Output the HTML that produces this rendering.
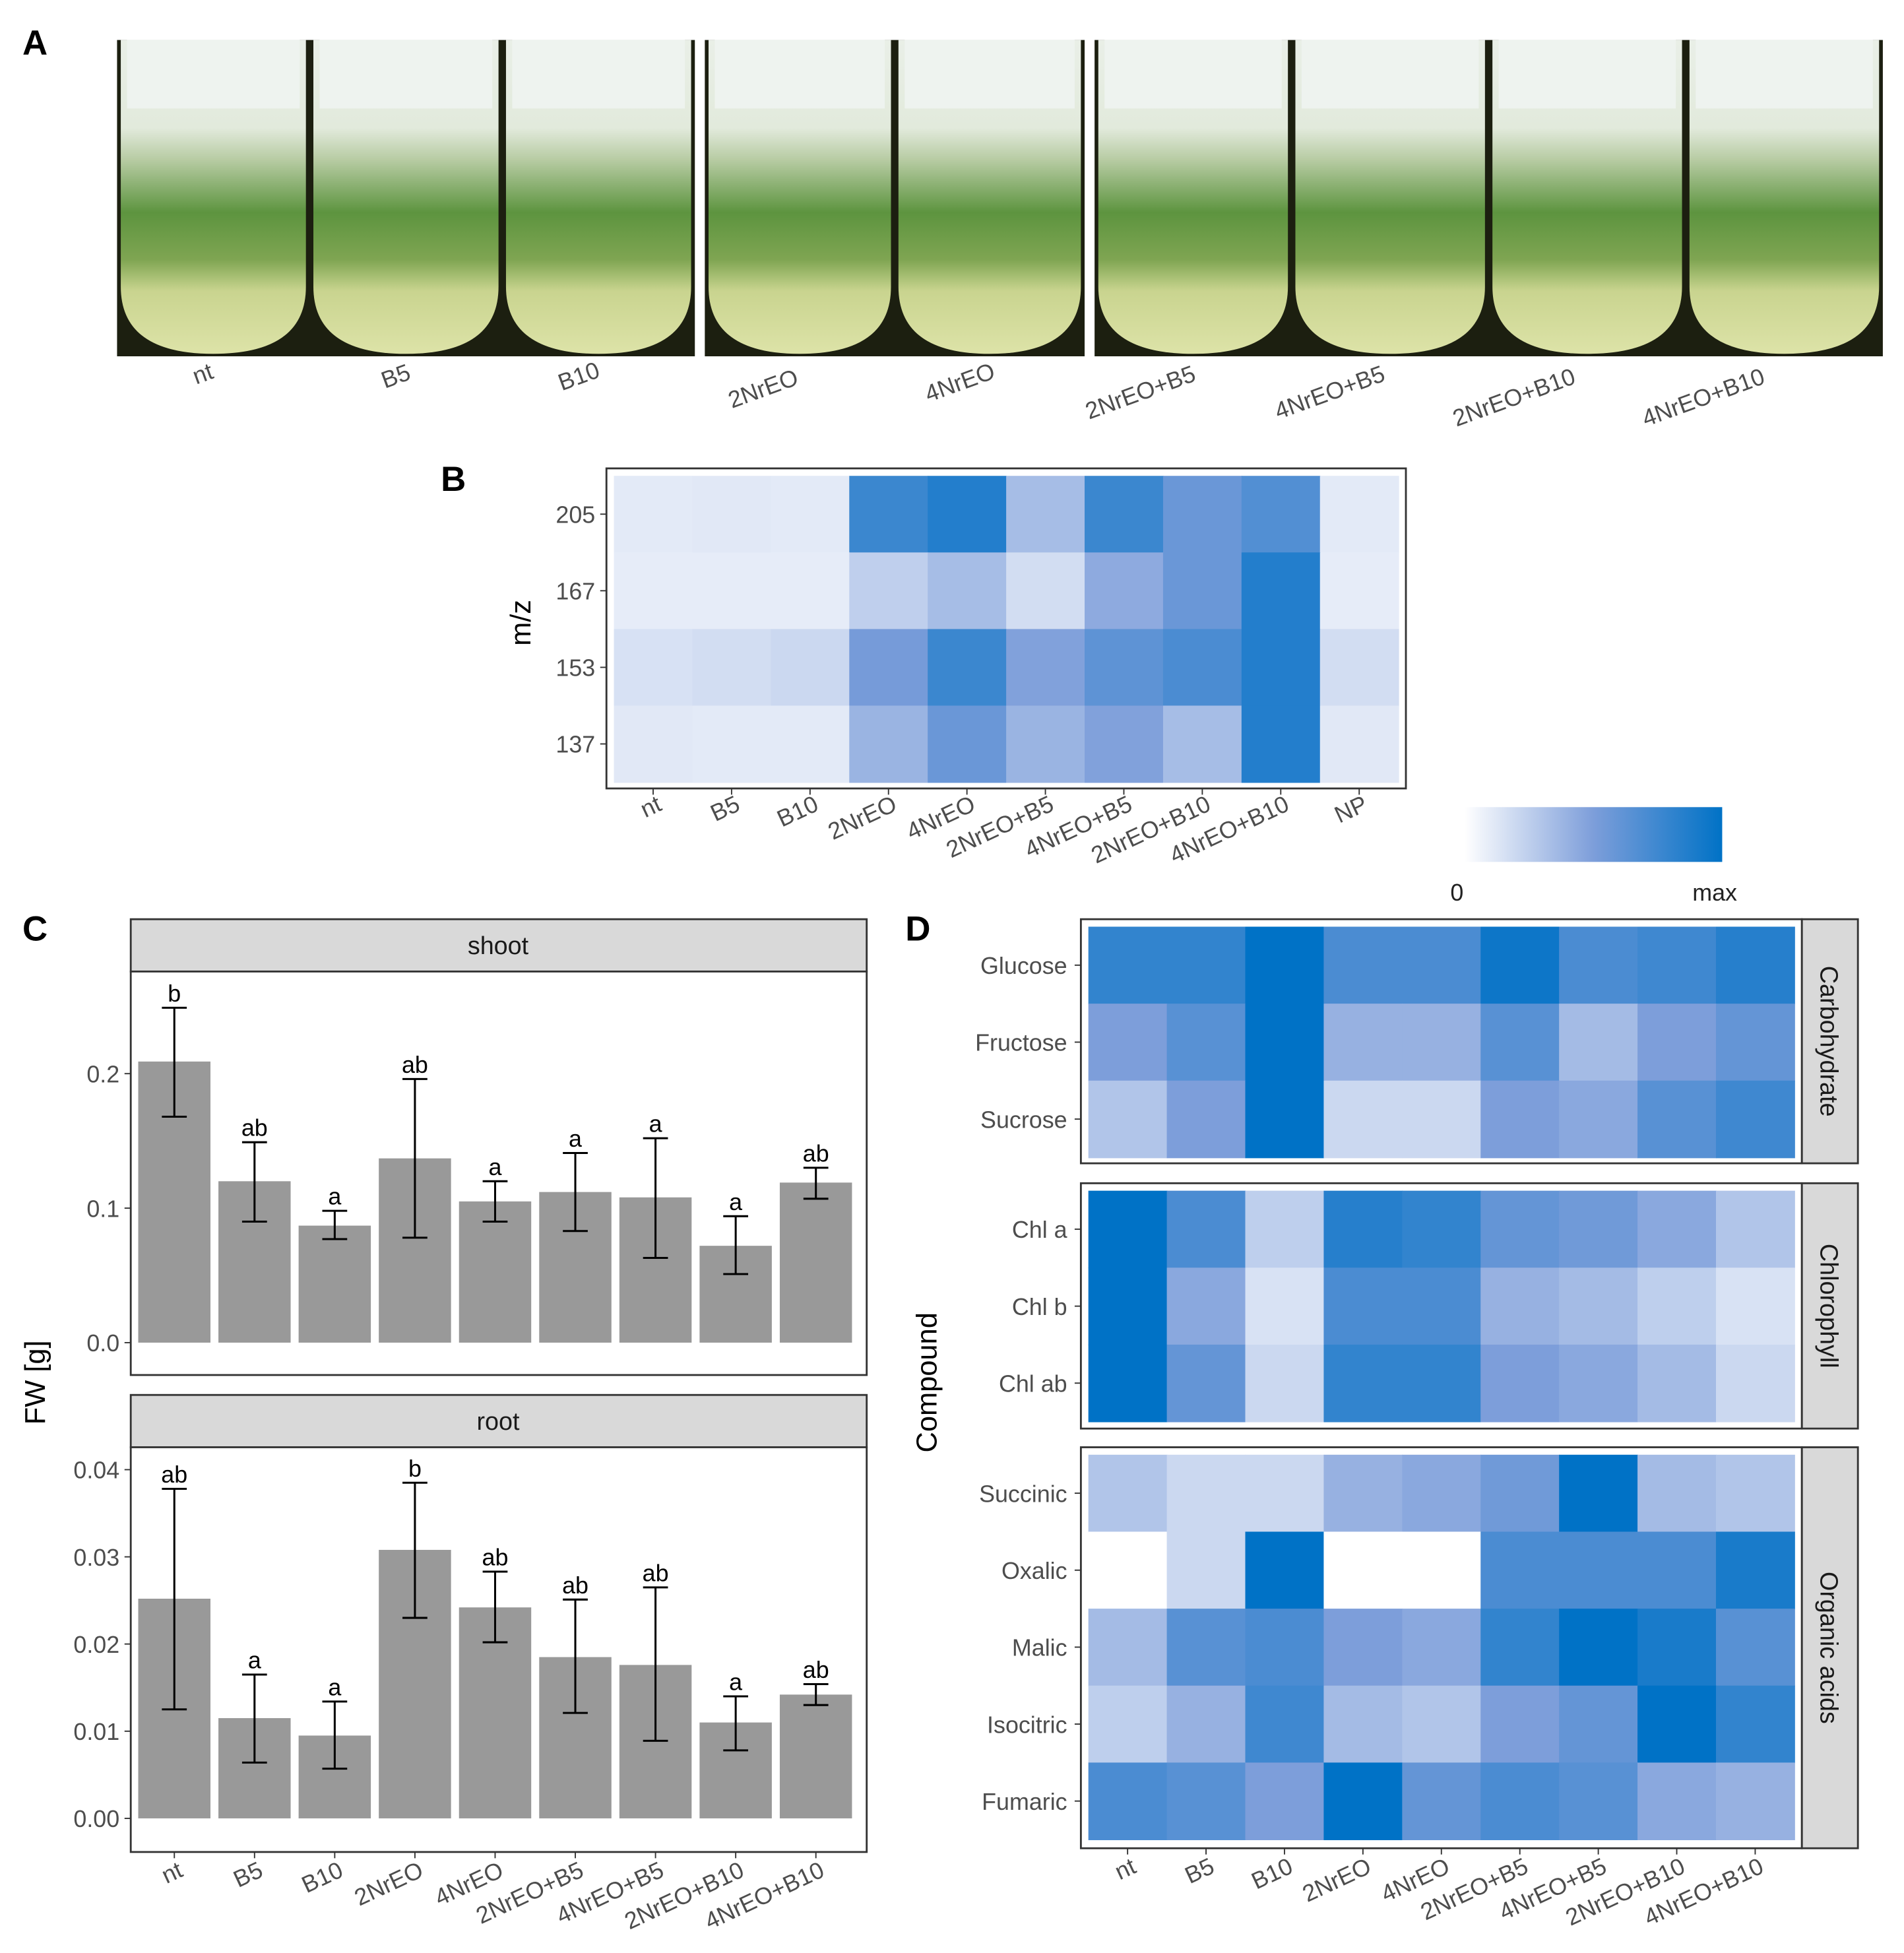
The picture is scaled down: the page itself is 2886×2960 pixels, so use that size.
<!DOCTYPE html>
<html><head><meta charset="utf-8"><style>
html,body{margin:0;padding:0;background:#fff}
svg{display:block;font-family:"Liberation Sans",sans-serif}
</style></head><body>
<svg id="fig" width="2886" height="2960" viewBox="0 0 1529 1568" xmlns="http://www.w3.org/2000/svg">
<defs>
<linearGradient id="jar" x1="0" y1="0" x2="0" y2="1">
<stop offset="0" stop-color="#e9efe7"/><stop offset="0.28" stop-color="#e2eadc"/>
<stop offset="0.38" stop-color="#b8cca4"/><stop offset="0.55" stop-color="#5d943f"/>
<stop offset="0.7" stop-color="#7fa552"/><stop offset="0.8" stop-color="#c9d48f"/>
<stop offset="1" stop-color="#dde3a8"/>
</linearGradient>
<linearGradient id="cbar" x1="0" y1="0" x2="1" y2="0">
<stop offset="0" stop-color="#ffffff"/><stop offset="0.5" stop-color="#7d9eda"/><stop offset="1" stop-color="#0072c6"/>
</linearGradient>
</defs>
<g id="root"></g>
</svg>
<script>
// ---- data ----
const photoLabels=["nt","B5","B10","2NrEO","4NrEO","2NrEO+B5","4NrEO+B5","2NrEO+B10","4NrEO+B10"];
const bCols=["nt","B5","B10","2NrEO","4NrEO","2NrEO+B5","4NrEO+B5","2NrEO+B10","4NrEO+B10","NP"];
const bRows=["205","167","153","137"];
const bVals=[
[.05,.06,.05,.75,.85,.3,.75,.55,.65,.05],
[.04,.04,.04,.2,.3,.12,.4,.55,.85,.04],
[.1,.12,.15,.5,.75,.45,.6,.68,.85,.12],
[.06,.05,.05,.35,.55,.35,.45,.3,.85,.06]];
const cCats=["nt","B5","B10","2NrEO","4NrEO","2NrEO+B5","4NrEO+B5","2NrEO+B10","4NrEO+B10"];
const shootMean=[.209,.120,.087,.137,.105,.112,.108,.072,.119];
const shootLo=[.168,.090,.077,.078,.090,.083,.063,.051,.107];
const shootHi=[.249,.149,.098,.196,.120,.141,.152,.094,.130];
const shootLetters=["b","ab","a","ab","a","a","a","a","ab"];
const shootTicks=[0,0.1,0.2];
const shootTickLabels=["0.0","0.1","0.2"];
const rootMean=[.0252,.0115,.0095,.0308,.0242,.0185,.0176,.011,.0142];
const rootLo=[.0125,.0064,.0057,.0230,.0202,.0121,.0089,.0078,.0130];
const rootHi=[.0378,.0165,.0134,.0385,.0283,.0251,.0265,.0140,.0154];
const rootLetters=["ab","a","a","b","ab","ab","ab","a","ab"];
const rootTicks=[0,.01,.02,.03,.04];
const rootTickLabels=["0.00","0.01","0.02","0.03","0.04"];
const dGroups=["Carbohydrate","Chlorophyll","Organic acids"];
const dRows=[["Glucose","Fructose","Sucrose"],["Chl a","Chl b","Chl ab"],["Succinic","Oxalic","Malic","Isocitric","Fumaric"]];
const dVals=[
[[.8,.8,1,.7,.7,.95,.7,.75,.85],[.5,.65,1,.4,.4,.65,.35,.5,.6],[.3,.5,1,.2,.2,.5,.45,.65,.75]],
[[1,.7,.25,.85,.8,.6,.55,.45,.3],[1,.45,.15,.7,.7,.4,.35,.25,.15],[1,.6,.2,.8,.8,.5,.45,.35,.2]],
[[.3,.2,.2,.4,.45,.55,1,.35,.3],[0,.2,1,0,0,.7,.7,.7,.9],[.35,.65,.7,.5,.45,.8,1,.9,.65],[.25,.4,.75,.35,.3,.5,.6,1,.8],[.7,.65,.5,1,.6,.7,.65,.45,.4]]];

const NS="http://www.w3.org/2000/svg";
const root=document.getElementById('root');
function mk(tag,attrs,parent,txt){const e=document.createElementNS(NS,tag);for(const k in attrs)e.setAttribute(k,attrs[k]);if(txt!==undefined)e.textContent=txt;(parent||root).appendChild(e);return e;}
const C0=[255,255,255],C1=[125,158,218],C2=[0,114,198];
function col(v){let a,b,f;if(v<0.5){a=C0;b=C1;f=v/0.5;}else{a=C1;b=C2;f=(v-0.5)/0.5;}
  const c=a.map((x,i)=>Math.round(x+(b[i]-x)*f));return `rgb(${c[0]},${c[1]},${c[2]})`;}
const tickCol="#4d4d4d";

// ---- Panel A ----
let t=mk('text',{x:18,y:44,'font-size':28,'font-weight':'bold',fill:'#000'},root,'A');


const photos=[[94,558,3],[566,871,2],[879,1512,4]];
photos.forEach((p,i)=>{
  const g=mk('g',{});
  
  
  mk('rect',{x:p[0],y:32,width:p[1]-p[0],height:254,fill:'#1c1f10'},g);
  const w=(p[1]-p[0])/p[2];
  for(let j=0;j<p[2];j++){
    const x=p[0]+j*w;
    mk('path',{d:`M${x+3} 32H${x+w-3}V230Q${x+w-3} 284 ${x+w/2} 284Q${x+3} 284 ${x+3} 230Z`,fill:'url(#jar)'},g);
    mk('rect',{x:x+8,y:32,width:w-16,height:55,fill:'#eef3ef'},g);
  }
});
photoLabels.forEach((l,i)=>{
  const x=[165,320,467,615,773,918,1070,1218,1370][i],y=[306,308,308,318,313,321,321,325,325][i];
  const e=mk('text',{x:x,y:y,'font-size':19,fill:tickCol,'text-anchor':'middle',transform:`rotate(-20 ${x} ${y})`},root,l);
  
  
});

// ---- Panel B ----
t=mk('text',{x:354,y:394,'font-size':28,'font-weight':'bold'},root,'B');


const bx0=493,bw=63,by0=382,bh=61.5;
const bg=mk('g',{});


mk('rect',{x:487,y:376,width:642,height:257,fill:'#fff',stroke:'#333','stroke-width':1.5},bg);
bVals.forEach((row,r)=>row.forEach((v,c)=>{
  const e=mk('rect',{x:bx0+c*bw,y:by0+r*bh,width:bw+0.5,height:bh+0.5,fill:col(0.06+v*0.94)},bg);
  
  
}));
bRows.forEach((l,r)=>{
  const y=by0+r*bh+bh/2;
  mk('line',{x1:482,x2:487,y1:y,y2:y,stroke:'#333'});
  const e=mk('text',{x:478,y:y+7,'font-size':19,fill:tickCol,'text-anchor':'end'},root,l);
  
  
});
bCols.forEach((l,c)=>{
  const x=bx0+c*bw+bw/2;
  mk('line',{x1:x,x2:x,y1:633,y2:638,stroke:'#333'});
  const e=mk('text',{x:x+8,y:650,'font-size':19,fill:tickCol,'text-anchor':'end',transform:`rotate(-25 ${x+8} 650)`},root,l);
  
  
});
t=mk('text',{x:426,y:500,'font-size':23,'text-anchor':'middle',transform:'rotate(-90 426 500)'},root,'m/z');


t=mk('rect',{x:1176,y:648,width:207,height:44,fill:'url(#cbar)'});


t=mk('text',{x:1170,y:723,'font-size':19,fill:'#222','text-anchor':'middle'},root,'0');


t=mk('text',{x:1377,y:723,'font-size':19,fill:'#222','text-anchor':'middle'},root,'max');



// ---- Panel C ----
t=mk('text',{x:18,y:755,'font-size':28,'font-weight':'bold'},root,'C');


const cx0=111,cstep=64.4,cbw=58;
function barPanel(name,stripY,py0,py1,y0,scale,mean,lo,hi,letters,ticks,tickLabels){
  const g=mk('g',{});
  
  
  mk('rect',{x:105,y:stripY,width:591,height:42,fill:'#d9d9d9',stroke:'#333','stroke-width':1.5},g);
  const s=mk('text',{x:400,y:stripY+28,'font-size':20,fill:'#1a1a1a','text-anchor':'middle'},g,name);
  
  
  mk('rect',{x:105,y:py0,width:591,height:py1-py0,fill:'#fff',stroke:'#333','stroke-width':1.5},g);
  const Y=v=>y0-v*scale;
  ticks.forEach((v,i)=>{
    mk('line',{x1:100,x2:105,y1:Y(v),y2:Y(v),stroke:'#333'},g);
    const e=mk('text',{x:96,y:Y(v)+7,'font-size':19,fill:tickCol,'text-anchor':'end'},g,tickLabels[i]);
    
    
  });
  mean.forEach((m,i)=>{
    const cx=cx0+cstep*i+cbw/2;
    const b=mk('rect',{x:cx-cbw/2,y:Y(m),width:cbw,height:y0-Y(m),fill:'#999999'},g);
    
    
    const eb=mk('path',{d:`M${cx} ${Y(lo[i])}V${Y(hi[i])}M${cx-10} ${Y(lo[i])}H${cx+10}M${cx-10} ${Y(hi[i])}H${cx+10}`,stroke:'#000','stroke-width':1.6,fill:'none'},g);
    
    
    const lt=mk('text',{x:cx,y:Y(hi[i])-5,'font-size':19,fill:'#000','text-anchor':'middle'},g,letters[i]);
    
    
  });
}
barPanel('shoot',738,780,1104,1078,1080,shootMean,shootLo,shootHi,shootLetters,shootTicks,shootTickLabels);
barPanel('root',1120,1162,1487,1460,7000,rootMean,rootLo,rootHi,rootLetters,rootTicks,rootTickLabels);
cCats.forEach((l,i)=>{
  const x=cx0+cstep*i+cbw/2;
  mk('line',{x1:x,x2:x,y1:1487,y2:1492,stroke:'#333'});
  const e=mk('text',{x:x+8,y:1506,'font-size':19,fill:tickCol,'text-anchor':'end',transform:`rotate(-25 ${x+8} 1506)`},root,l);
  
  
});
t=mk('text',{x:36,y:1110,'font-size':23,'text-anchor':'middle',transform:'rotate(-90 36 1110)'},root,'FW [g]');



// ---- Panel D ----
t=mk('text',{x:727,y:755,'font-size':28,'font-weight':'bold'},root,'D');


const dx0=874,dw=63,dh=61.8;
const dPanels=[[738,934],[950,1147],[1162,1484]];
dGroups.forEach((gname,gi)=>{
  const [p0,p1]=dPanels[gi];
  const g=mk('g',{});
  
  
  mk('rect',{x:868,y:p0,width:579,height:p1-p0,fill:'#fff',stroke:'#333','stroke-width':1.5},g);
  mk('rect',{x:1447,y:p0,width:45,height:p1-p0,fill:'#d9d9d9',stroke:'#333','stroke-width':1.5},g);
  const sy=(p0+p1)/2;
  const s=mk('text',{x:1462,y:sy,'font-size':20,fill:'#1a1a1a','text-anchor':'middle',transform:`rotate(90 1462 ${sy})`},g,gname);
  
  
  dVals[gi].forEach((row,r)=>{
    const y=p0+6+r*dh;
    row.forEach((v,c)=>{
      const e=mk('rect',{x:dx0+c*dw,y:y,width:dw+0.5,height:dh+0.5,fill:col(v)},g);
      
      
    });
    const yc=y+dh/2;
    mk('line',{x1:863,x2:868,y1:yc,y2:yc,stroke:'#333'},g);
    const lt=mk('text',{x:857,y:yc+7,'font-size':19,fill:tickCol,'text-anchor':'end'},g,dRows[gi][r]);
    
    
  });
});
cCats.forEach((l,i)=>{
  const x=dx0+dw*i+dw/2;
  mk('line',{x1:x,x2:x,y1:1484,y2:1489,stroke:'#333'});
  const e=mk('text',{x:x+8,y:1503,'font-size':19,fill:tickCol,'text-anchor':'end',transform:`rotate(-25 ${x+8} 1503)`},root,l);
  
  
});
t=mk('text',{x:752,y:1110,'font-size':23,'text-anchor':'middle',transform:'rotate(-90 752 1110)'},root,'Compound');


</script>
</body></html>
